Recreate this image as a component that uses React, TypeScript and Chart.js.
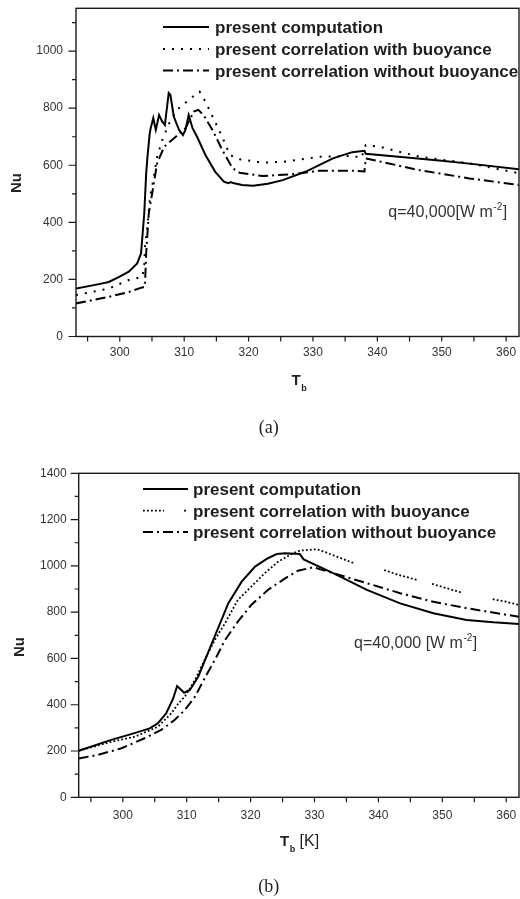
import React, { useEffect, useRef } from "react";
import { Chart, registerables } from "chart.js";
Chart.register(...registerables);

const FONT = "'Liberation Sans', Arial, Helvetica, sans-serif";

// ---------- Panel (a) data ----------
const A_COMP_T = [293.2, 296.0, 298.3, 299.9, 301.4, 302.7, 303.3, 303.8, 304.1, 304.3, 304.65, 304.8, 305.2, 305.6, 306.1, 306.6, 307.0, 307.6, 307.85, 308.4, 309.2, 309.8, 310.2, 310.7, 311.3, 312.0, 313.3, 314.8, 316.2, 316.9, 317.2, 317.6, 319.0, 320.7, 323.0, 325.3, 328.9, 333.1, 336.1, 338.0, 338.2, 345.0, 350.0, 355.0, 362.0];
const A_COMP_NU = [168, 180, 191, 209, 227, 256, 291, 431, 572, 630, 712, 730, 765, 724, 776, 753, 741, 853, 847, 770, 724, 706, 724, 776, 730, 700, 636, 578, 542, 537, 541, 538, 531, 528, 535, 548, 578, 624, 646, 651, 640, 626, 616, 604, 586];

const A_WITH_T = [293.2, 298.3, 301.4, 303.5, 303.8, 303.9, 304.3, 304.7, 305.2, 305.8, 306.6, 307.9, 309.2, 310.7, 312.4, 313.3, 314.4, 315.9, 317.1, 318.6, 322.2, 325.8, 331.0, 336.2, 337.5, 338.2, 340.3, 346.5, 354.3, 362.0];
const A_WITH_NU = [145, 168, 198, 209, 244, 314, 385, 490, 548, 630, 689, 759, 800, 829, 858, 823, 771, 700, 636, 621, 609, 613, 630, 633, 625, 671, 665, 630, 607, 572];

const A_WITHOUT_T = [293.2, 298.3, 301.4, 303.5, 303.9, 304.1, 304.5, 305.2, 305.8, 306.9, 308.7, 310.2, 311.5, 312.2, 313.0, 314.4, 315.9, 317.5, 318.6, 322.2, 326.9, 331.0, 336.2, 338.0, 338.2, 346.5, 354.3, 362.0];
const A_WITHOUT_NU = [116, 139, 156, 172, 174, 291, 431, 525, 607, 665, 700, 730, 788, 794, 776, 724, 654, 590, 574, 562, 569, 581, 581, 578, 624, 583, 554, 531];

// ---------- Panel (b) data ----------
const B_COMP_T = [293.1, 298.2, 301.3, 304.2, 305.5, 306.8, 307.9, 308.5, 309.6, 310.5, 311.8, 313.3, 314.9, 316.5, 318.6, 320.7, 322.7, 324.1, 325.4, 327.7, 328.3, 333.0, 338.2, 343.4, 348.6, 353.8, 358.0, 362.0];
const B_COMP_NU = [201, 248, 273, 298, 320, 363, 428, 481, 452, 464, 521, 622, 730, 838, 932, 997, 1033, 1051, 1054, 1051, 1028, 968, 896, 838, 795, 766, 756, 749];

const B_WITH_T = [293.1, 298.2, 301.9, 305.5, 307.6, 308.7, 309.7, 311.3, 312.8, 314.4, 316.0, 318.0, 320.1, 322.2, 324.3, 326.4, 327.7, 330.4, 331.9, 333.5, 336.3, 338.5, 340.9, 343.0, 346.2, 347.3, 348.4, 350.5, 353.1, 355.5, 357.9, 360.0, 362.0];
const B_WITH_NU = [201, 240, 262, 305, 363, 406, 435, 507, 593, 680, 752, 853, 910, 968, 1018, 1051, 1066, 1072, 1057, 1040, 1010, null, 982, 962, 938, null, 922, 905, 884, null, 856, 845, 831];

const B_WITHOUT_T = [293.1, 296.1, 299.8, 303.4, 306.0, 308.1, 309.7, 311.3, 312.8, 314.4, 316.0, 318.0, 320.1, 322.7, 325.4, 327.4, 329.8, 333.0, 338.2, 343.4, 348.6, 353.8, 362.0];
const B_WITHOUT_NU = [168, 183, 212, 255, 291, 334, 377, 435, 514, 593, 680, 759, 831, 896, 946, 979, 994, 968, 925, 882, 845, 817, 780];

// ---------- labels / ticks ----------
const SERIES_NAMES = ["present computation", "present correlation with buoyance", "present correlation without buoyance"];
const X_MAJOR = [300, 310, 320, 330, 340, 350, 360];
const X_MINOR = [295, 305, 315, 325, 335, 345, 355];
const A_Y_MAJOR = [0, 200, 400, 600, 800, 1000];
const A_Y_MINOR = [100, 300, 500, 700, 900, 1100];
const B_Y_MAJOR = [0, 200, 400, 600, 800, 1000, 1200, 1400];
const B_Y_MINOR = [100, 300, 500, 700, 900, 1100, 1300];
const A_NOTE = "q=40,000[W m";
const B_NOTE = "q=40,000 [W m";
const NOTE_SUP = "-2";
const NOTE_END = "]";
const Y_TITLE = "Nu";
const X_TITLE = "T";
const X_TITLE_SUB = "b";
const B_X_UNIT = " [K]";
const CAPTIONS = ["(a)", "(b)"];

type Panel = {
  compT: number[]; compNu: (number | null)[];
  withT: number[]; withNu: (number | null)[];
  withoutT: number[]; withoutNu: (number | null)[];
  xMin: number; xMax: number; yMax: number;
  yMajor: number[]; yMinor: number[];
  height: number; padTop: number; yAxisW: number; yPad: number; xPad: number;
  dotDash: number[]; dotWidth: number;
  yMajLen: number; yMinLen: number;
  legX0: number; legX1: number; legTextX: number; legLineY: number[]; legBaseY: number[]; splitDot: boolean;
  note: string; noteX: number; noteBase: number;
  nuX: number; nuY: number; tX: number; tBase: number; unit: string;
  bottomPx: number;
};

const DASHDOT = [10, 4, 2, 4];

function pts(T: number[], N: (number | null)[]) {
  return T.map((t, i) => ({ x: t, y: N[i] }));
}

function zeroPad(s: any) {
  s.paddingTop = 0;
  s.paddingBottom = 0;
  s.paddingLeft = 0;
  s.paddingRight = 0;
}

function decor(p: Panel) {
  return {
    id: "decor",
    afterDraw(chart: any) {
      const ctx = chart.ctx as CanvasRenderingContext2D;
      const { left, right, top, bottom } = chart.chartArea;
      const xs = chart.scales.x;
      const ys = chart.scales.y;
      ctx.save();
      ctx.setLineDash([]);
      ctx.strokeStyle = "#1a1a1a";
      ctx.lineWidth = 1.4;
      ctx.strokeRect(left, top, right - left, bottom - top);
      ctx.lineWidth = 1.2;
      ctx.beginPath();
      for (const v of p.yMajor) {
        const y = ys.getPixelForValue(v);
        ctx.moveTo(left, y); ctx.lineTo(left - p.yMajLen, y);
      }
      for (const v of p.yMinor) {
        const y = ys.getPixelForValue(v);
        ctx.moveTo(left, y); ctx.lineTo(left - p.yMinLen, y);
      }
      for (const v of [...X_MAJOR, ...X_MINOR]) {
        const x = xs.getPixelForValue(v);
        ctx.moveTo(x, bottom); ctx.lineTo(x, bottom + 5);
      }
      ctx.stroke();

      // legend
      ctx.strokeStyle = "#000";
      ctx.lineCap = "butt";
      const dashes = [[], p.dotDash, DASHDOT];
      for (let i = 0; i < 3; i++) {
        const y = p.legLineY[i];
        ctx.setLineDash(dashes[i]);
        ctx.lineWidth = i === 1 ? p.dotWidth : 2;
        ctx.beginPath();
        if (i === 1 && p.splitDot) {
          ctx.moveTo(p.legX0, y); ctx.lineTo(p.legX0 + 21, y);
          ctx.stroke();
          ctx.setLineDash([]);
          ctx.beginPath();
          ctx.moveTo(p.legX1 - 4, y); ctx.lineTo(p.legX1 - 2, y);
        } else {
          ctx.moveTo(p.legX0, y); ctx.lineTo(p.legX1, y);
        }
        ctx.stroke();
      }
      ctx.setLineDash([]);
      ctx.fillStyle = "#1e1e1e";
      ctx.font = `bold 17px ${FONT}`;
      ctx.textAlign = "left";
      ctx.textBaseline = "alphabetic";
      for (let i = 0; i < 3; i++) ctx.fillText(SERIES_NAMES[i], p.legTextX, p.legBaseY[i]);

      // note
      ctx.fillStyle = "#333";
      ctx.font = `16px ${FONT}`;
      ctx.fillText(p.note, p.noteX, p.noteBase);
      let nx = p.noteX + ctx.measureText(p.note).width;
      ctx.font = `10px ${FONT}`;
      ctx.fillText(NOTE_SUP, nx + 0.5, p.noteBase - 7);
      nx += ctx.measureText(NOTE_SUP).width + 1;
      ctx.font = `16px ${FONT}`;
      ctx.fillText(NOTE_END, nx, p.noteBase);

      // y title
      ctx.fillStyle = "#222";
      ctx.save();
      ctx.translate(p.nuX, p.nuY);
      ctx.rotate(-Math.PI / 2);
      ctx.font = `bold 15px ${FONT}`;
      ctx.textAlign = "center";
      ctx.textBaseline = "middle";
      ctx.fillText(Y_TITLE, 0, 0);
      ctx.restore();

      // x title
      ctx.textAlign = "left";
      ctx.textBaseline = "alphabetic";
      ctx.font = `bold 15px ${FONT}`;
      ctx.fillText(X_TITLE, p.tX, p.tBase);
      let tx = p.tX + ctx.measureText(X_TITLE).width + 0.5;
      ctx.font = `bold 9px ${FONT}`;
      ctx.fillText(X_TITLE_SUB, tx, p.tBase + 6);
      tx += ctx.measureText(X_TITLE_SUB).width;
      if (p.unit) {
        ctx.font = `16px ${FONT}`;
        ctx.fillText(p.unit, tx, p.tBase);
      }
      ctx.restore();
    },
  };
}

function makeConfig(p: Panel): any {
  const base = { borderColor: "#000", pointRadius: 0, fill: false, tension: 0, spanGaps: false };
  return {
    type: "line",
    data: {
      datasets: [
        { ...base, label: SERIES_NAMES[0], data: pts(p.compT, p.compNu), borderWidth: 2 },
        { ...base, label: SERIES_NAMES[1], data: pts(p.withT, p.withNu), borderWidth: p.dotWidth, borderDash: p.dotDash },
        { ...base, label: SERIES_NAMES[2], data: pts(p.withoutT, p.withoutNu), borderWidth: 2, borderDash: DASHDOT },
      ],
    },
    options: {
      animation: false,
      responsive: false,
      maintainAspectRatio: false,
      layout: { padding: { top: p.padTop, right: 1, left: 0, bottom: 0 } },
      plugins: { legend: { display: false }, tooltip: { enabled: false } },
      scales: {
        x: {
          type: "linear",
          min: p.xMin,
          max: p.xMax,
          afterFit: (s: any) => { s.height = p.height - p.bottomPx; zeroPad(s); },
          afterBuildTicks: (s: any) => {
            s.ticks = [...X_MINOR, ...X_MAJOR].sort((a, b) => a - b).map((v) => ({ value: v }));
          },
          ticks: {
            autoSkip: false, maxRotation: 0, padding: p.xPad, color: "#333",
            font: { family: FONT, size: 12 },
            callback: (v: number) => (X_MAJOR.includes(v) ? String(v) : ""),
          },
          grid: { display: false, drawTicks: false },
          border: { display: false },
        },
        y: {
          type: "linear",
          min: 0,
          max: p.yMax,
          afterFit: (s: any) => { s.width = p.yAxisW; zeroPad(s); },
          afterBuildTicks: (s: any) => {
            s.ticks = [...p.yMinor, ...p.yMajor].sort((a, b) => a - b).map((v) => ({ value: v }));
          },
          ticks: {
            autoSkip: false, padding: p.yPad, color: "#333",
            font: { family: FONT, size: 12 },
            callback: (v: number) => (p.yMajor.includes(v) ? String(v) : ""),
          },
          grid: { display: false, drawTicks: false },
          border: { display: false },
        },
      },
    },
    plugins: [decor(p)],
  };
}

const PANEL_A: Panel = {
  compT: A_COMP_T, compNu: A_COMP_NU, withT: A_WITH_T, withNu: A_WITH_NU, withoutT: A_WITHOUT_T, withoutNu: A_WITHOUT_NU,
  xMin: 293.2, xMax: 362, yMax: 1150, yMajor: A_Y_MAJOR, yMinor: A_Y_MINOR,
  height: 460, padTop: 8.3, yAxisW: 76, yPad: 13, xPad: 9.3,
  dotDash: [2, 7], dotWidth: 2, yMajLen: 7.5, yMinLen: 4,
  legX0: 163, legX1: 209, legTextX: 215, legLineY: [27, 49, 70.5], legBaseY: [33.3, 55, 76.7], splitDot: false,
  note: A_NOTE, noteX: 388.3, noteBase: 216.7,
  nuX: 17, nuY: 183, tX: 291.5, tBase: 384.7, unit: "",
  bottomPx: 336.5,
};

const PANEL_B: Panel = {
  compT: B_COMP_T, compNu: B_COMP_NU, withT: B_WITH_T, withNu: B_WITH_NU, withoutT: B_WITHOUT_T, withoutNu: B_WITHOUT_NU,
  xMin: 293.1, xMax: 362, yMax: 1400, yMajor: B_Y_MAJOR, yMinor: B_Y_MINOR,
  height: 439, padTop: 13.3, yAxisW: 78.7, yPad: 12, xPad: 11,
  dotDash: [1.8, 2.2], dotWidth: 1.8, yMajLen: 8, yMinLen: 4,
  legX0: 143, legX1: 188, legTextX: 193, legLineY: [29, 50.7, 72], legBaseY: [35, 56.7, 78.3], splitDot: true,
  note: B_NOTE, noteX: 354, noteBase: 188.3,
  nuX: 20, nuY: 187, tX: 280, tBase: 385.7, unit: B_X_UNIT,
  bottomPx: 337.3,
};

function ChartPanel({ panel, top }: { panel: Panel; top: number }) {
  const ref = useRef<HTMLCanvasElement | null>(null);
  useEffect(() => {
    if (!ref.current) return;
    const chart = new Chart(ref.current, makeConfig(panel));
    return () => chart.destroy();
  }, [panel]);
  return (
    <canvas
      ref={ref}
      width={520}
      height={panel.height}
      style={{ position: "absolute", left: 0, top, width: 520, height: panel.height }}
    />
  );
}

export default function App() {
  const cap: React.CSSProperties = {
    position: "absolute", left: 218.7, width: 100, textAlign: "center",
    fontFamily: "'Liberation Serif', 'Times New Roman', serif", fontSize: 18, lineHeight: "20px", color: "#222",
  };
  return (
    <div style={{ position: "absolute", left: 0, top: 0, width: 520, height: 899, background: "#fff", overflow: "hidden" }}>
      <ChartPanel panel={PANEL_A} top={0} />
      <ChartPanel panel={PANEL_B} top={460} />
      <div style={{ ...cap, top: 417.4 }}>{CAPTIONS[0]}</div>
      <div style={{ ...cap, top: 875.6 }}>{CAPTIONS[1]}</div>
    </div>
  );
}
